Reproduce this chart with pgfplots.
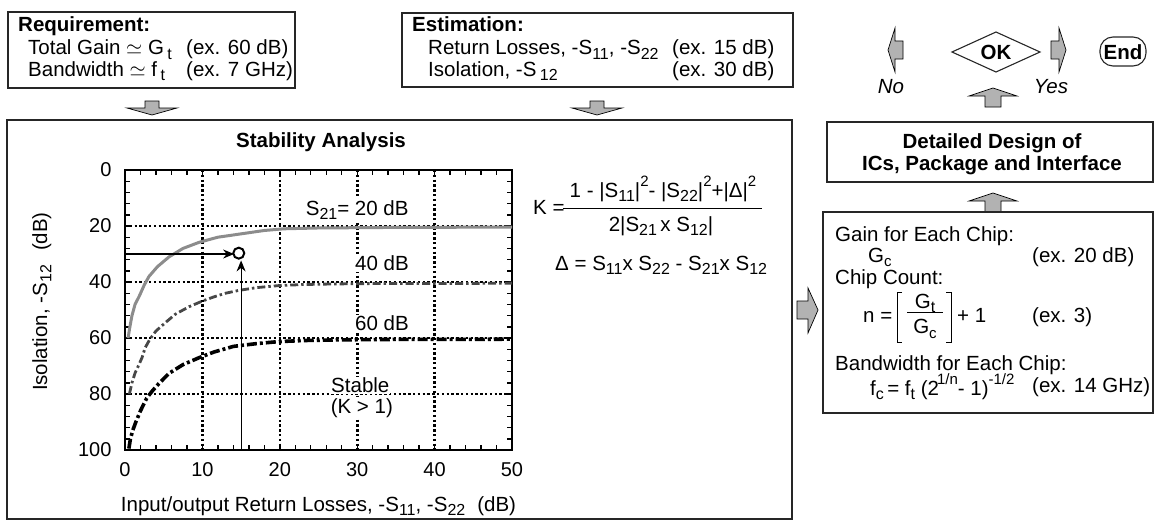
\documentclass[border=0pt]{standalone}
\usepackage{fontspec}
\setmainfont{Liberation Sans}
\usepackage{pgfplots}
\pgfplotsset{compat=1.18}
\usetikzlibrary{arrows.meta}

\newcommand\fs{\fontsize{20.5}{20.5}\selectfont}
\newcommand\fst{\fontsize{20}{20}\selectfont}
\newcommand\sub[1]{\raisebox{-0.4ex}{\fontsize{16}{16}\selectfont #1}}
\newcommand\sups[1]{\raisebox{0.95ex}{\fontsize{15}{15}\selectfont #1}}

% block arrows (centre x, tip y)
\newcommand\blkdown[2]{\draw[blk] ({#1-7},{#2-14}) -- ({#1+7},{#2-14}) -- ({#1+7},{#2-7}) -- ({#1+25},{#2-7}) -- (#1,#2) -- ({#1-25},{#2-7}) -- ({#1-7},{#2-7}) -- cycle;}
\newcommand\blkup[2]{\draw[blk] ({#1-8},{#2+19}) -- ({#1+8},{#2+19}) -- ({#1+8},{#2+8}) -- ({#1+24},{#2+8}) -- (#1,#2) -- ({#1-24},{#2+8}) -- ({#1-8},{#2+8}) -- cycle;}

\begin{document}
\begin{tikzpicture}[x=1pt,y=-1pt,
  txt/.style={inner sep=0pt, font=\fs},
  box/.style={draw=black!85, line width=1.1pt},
  blk/.style={fill=black!30, draw=black, line width=0.7pt, line join=miter}]
\path[use as bounding box] (0,0) rectangle (1155,527);

% ---------- Requirement ----------
\draw[box] (8,12) rectangle (295,88);
\node[txt, anchor=base west] at (18,32) {\bfseries Requirement:};
\node[txt, anchor=base west] at (28,55) {Total Gain $\simeq$ G\,\sub{t}};
\node[txt, anchor=base west] at (186,55) {(ex. 60 dB)};
\node[txt, anchor=base west] at (28,76) {Bandwidth $\simeq$ f\,\sub{t}};
\node[txt, anchor=base west] at (186,76) {(ex. 7 GHz)};
\blkdown{152}{115}

% ---------- Estimation ----------
\draw[box] (402,13) rectangle (793,87);
\node[txt, anchor=base west] at (412,32) {\bfseries Estimation:};
\node[txt, anchor=base west] at (428,55) {Return Losses, -S\sub{11}, -S\sub{22}};
\node[txt, anchor=base west] at (672,55) {(ex. 15 dB)};
\node[txt, anchor=base west] at (428,76) {Isolation, -S\,\sub{12}};
\node[txt, anchor=base west] at (672,76) {(ex. 30 dB)};
\blkdown{597}{115}

% ---------- decision ----------
\draw[blk] (888,50) -- (895,28) -- (895,41) -- (903,41) -- (903,59) -- (895,59) -- (895,72) -- cycle;
\draw[blk] (1066,50) -- (1059,28) -- (1059,41) -- (1051,41) -- (1051,59) -- (1059,59) -- (1059,72) -- cycle;
\node[txt] at (891,87) {\itshape No};
\node[txt] at (1051,87) {\itshape Yes};
\draw[box] (952,52) -- (996,32) -- (1040,52) -- (996,72) -- cycle;
\node[txt] at (996,52) {\bfseries OK};
\draw[box, rounded corners=13pt] (1100,37) rectangle (1146,66);
\node[txt] at (1123,52) {\bfseries End};
\blkup{993}{88}

% ---------- detailed design ----------
\draw[box] (827,122) rectangle (1153,182);
\node[txt, anchor=base] at (992,148) {\bfseries Detailed Design of};
\node[txt, anchor=base] at (992,170) {\bfseries ICs, Package and Interface};
\blkup{993}{193}

% ---------- chip budget ----------
\draw[box] (823,212) rectangle (1153,413);
\node[txt, anchor=base west] at (835,241) {Gain for Each Chip:};
\node[txt, anchor=base west] at (868,262) {G\raisebox{-0.45ex}{\fontsize{15}{15}\selectfont c}};
\node[txt, anchor=base west] at (1032,262) {(ex. 20 dB)};
\node[txt, anchor=base west] at (835,284) {Chip Count:};
\node[txt, anchor=base west] at (863,322) {n =};
\node[txt, anchor=base] at (925,308) {G\sub{t}};
\draw[line width=1pt] (907,312) -- (943,312);
\node[txt, anchor=base] at (925,333) {G\raisebox{-0.5ex}{\fontsize{15}{15}\selectfont c}};
\draw[line width=1pt] (902,292) -- (897,292) -- (897,342) -- (902,342);
\draw[line width=1pt] (946,292) -- (951,292) -- (951,342) -- (946,342);
\node[txt, anchor=base west] at (957,322) {+ 1};
\node[txt, anchor=base west] at (1032,322) {(ex. 3)};
\node[txt, anchor=base west] at (835,370) {Bandwidth for Each Chip:};
\node[txt, anchor=base west] at (870,395) {f\sub{c}\,= f\sub{t} (2\kern-2pt\sups{1/n}- 1)\sups{-1/2}};
\node[txt, anchor=base west] at (1032,392) {(ex. 14 GHz)};
\draw[blk] (818,310) -- (808,288) -- (808,301) -- (797,301) -- (797,319) -- (808,319) -- (808,333) -- cycle;

% ---------- stability analysis ----------
\draw[box] (7,120) rectangle (792,519);
\node[txt, anchor=base] at (321,147) {\bfseries Stability Analysis};

\node[txt, anchor=base west] at (533,214) {K =};
\node[txt, anchor=base] at (663,197) {1 - |S\sub{11}|\sups{2}- |S\sub{22}|\sups{2}+|Δ|\sups{2}};
\draw[line width=1pt] (563,208) -- (762,208);
\node[txt, anchor=base] at (661,231) {2|S\sub{21}\,x S\sub{12}|};
\node[txt, anchor=base west] at (555,270) {Δ = S\sub{11}x S\sub{22} - S\sub{21}x S\sub{12}};

\begin{axis}[
  at={(125pt,-170pt)}, anchor=north west,
  scale only axis, width=387pt, height=280pt,
  xmin=0, xmax=50, ymin=0, ymax=100, y dir=reverse,
  xtick={0,10,...,50}, ytick={0,20,...,100},
  minor x tick num=4, minor y tick num=4,
  tick align=inside, major tick length=6pt, minor tick length=5pt,
  tick style={black, line width=1.4pt},
  axis line style={line width=2.6pt},
  grid=major,
  grid style={black, line width=2.6pt, dash pattern=on 2.4pt off 2.4pt},
  major grid style={black, line width=2.6pt, dash pattern=on 2.4pt off 2.4pt},
  ticklabel style={font=\fst},
  yticklabel style={xshift=-10pt},
  xticklabel style={yshift=-9pt},
  /pgf/number format/assume math mode=true,
  label style={font=\fs},
  xlabel={Input/output Return Losses, -S\sub{11}, -S\sub{22}\hspace{12pt}(dB)},
  ylabel={Isolation, -S\sub{12}\hspace{14pt}(dB)},
  xlabel style={at={(axis description cs:0.5,-0.2)}, anchor=center},
  ylabel style={at={(axis description cs:-0.215,0.53)}, anchor=center},
]
% S21 = 20 dB
\addplot[black!45, line width=3pt] coordinates {
  (0.4,60) (0.6,56.5) (0.9,52) (1.3,48) (1.85,45) (2.5,41) (3.1,38)
  (4.2,34.5) (5.7,31) (7.5,28) (9.6,25.8) (12,24) (14,23.2) (16,22.4)
  (18,21.6) (20.5,21) (25,20.7) (30,20.6) (35,20.5) (40,20.5) (45,20.4) (50,20.4)};
% S21 = 40 dB
\addplot[black!72, line width=2.8pt, dash pattern=on 8pt off 3pt on 2.5pt off 3pt] coordinates {
  (0.57,80) (0.9,76) (1.3,72.5) (1.8,69.5) (2.2,67) (2.6,63.5) (3.2,60.5)
  (4,57.5) (5.1,54.8) (6.5,51.5) (8.3,48.8) (10,46.8) (11.5,45.3) (13,44)
  (14.7,43) (17,42) (19.8,41.3) (23,40.9) (27,40.7) (30,40.6) (35,40.5)
  (40,40.5) (45,40.5) (50,40.4)};
% S21 = 60 dB
\addplot[black, line width=3.6pt, dash pattern=on 10pt off 3pt on 3pt off 3pt] coordinates {
  (0.5,99.5) (0.7,96) (1.0,93) (1.4,90) (2.0,86) (2.8,81.5) (3.5,79)
  (4.3,76.5) (5.7,72.6) (7.5,69.5) (9.6,67) (11.5,65) (14,63) (17,62)
  (19.8,61.3) (23,60.9) (27,60.7) (30,60.6) (35,60.5) (40,60.5) (45,60.5) (50,60.4)};
% design point: return loss 15 dB, isolation 30 dB
\addplot[black, line width=1.1pt, -{Stealth[length=11pt,width=9pt]}] coordinates {(0,30) (14.1,30)};
\addplot[black, line width=1.1pt, -{Stealth[length=11pt,width=9pt]}] coordinates {(15,100) (15,32.3)};
\addplot[only marks, mark=o, mark size=5.5pt, mark options={line width=2pt, fill=white}] coordinates {(14.7,29.7)};

\node[fill=white, inner sep=1pt, font=\fs] at (axis cs:30,14.3) {S\sub{21}= 20 dB};
\node[fill=white, inner sep=1pt, font=\fs] at (axis cs:33.2,33.3) {40 dB};
\node[fill=white, inner sep=1pt, font=\fs] at (axis cs:33.2,54.7) {60 dB};
\node[fill=white, inner sep=1pt, font=\fs] at (axis cs:30.4,76.8) {Stable};
\node[fill=white, inner sep=1pt, font=\fs] at (axis cs:30.6,85) {(K > 1)};
\end{axis}
\end{tikzpicture}
\end{document}
